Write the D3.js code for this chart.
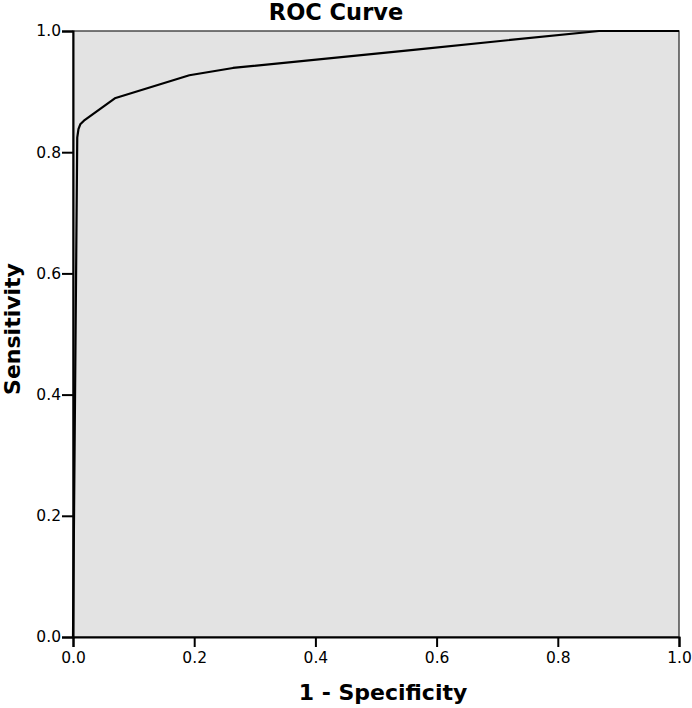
<!DOCTYPE html>
<html>
<head>
<meta charset="utf-8">
<script src="https://cdn.jsdelivr.net/npm/d3@7"></script>
<style>
  body { margin: 0; background: #fff; }
  text { font-family: "DejaVu Sans", sans-serif; fill: #000; }
</style>
</head>
<body>
<div id="chart"></div>
<script>
// ROC points: 1 - specificity, sensitivity
const fpr = [0, 0.007, 0.009, 0.012, 0.018, 0.069, 0.192, 0.264, 0.562, 0.868, 1.0];
const tpr = [0, 0.824, 0.838, 0.846, 0.852, 0.889, 0.927, 0.939, 0.969, 1.0, 1.0];
const tickValues = [0, 0.2, 0.4, 0.6, 0.8, 1.0];

const width = 692, height = 708;
const margin = { top: 31, right: 13, bottom: 71, left: 73 };

const svg = d3.select("#chart").append("svg")
    .attr("width", width)
    .attr("height", height);

const x = d3.scaleLinear().domain([0, 1]).range([margin.left, width - margin.right]);
const y = d3.scaleLinear().domain([0, 1]).range([height - margin.bottom, margin.top]);

// plot background + frame
svg.append("rect")
    .attr("x", x(0)).attr("y", y(1))
    .attr("width", x(1) - x(0)).attr("height", y(0) - y(1))
    .attr("fill", "#e3e3e3")
    .attr("stroke", "#333")
    .attr("stroke-width", 1.3);

// axes
const xAxis = svg.append("g")
    .attr("transform", `translate(0,${y(0)})`)
    .call(d3.axisBottom(x).tickValues(tickValues).tickFormat(d3.format(".1f")).tickSizeOuter(0).tickSize(10).tickPadding(5));
const yAxis = svg.append("g")
    .attr("transform", `translate(${x(0)},0)`)
    .call(d3.axisLeft(y).tickValues(tickValues).tickFormat(d3.format(".1f")).tickSizeOuter(0).tickSize(11).tickPadding(1));

[xAxis, yAxis].forEach(g => {
    g.attr("font-size", 15);
    g.select(".domain").attr("stroke", "#000").attr("stroke-width", 2);
    g.selectAll(".tick line").attr("stroke", "#000").attr("stroke-width", 2);
    g.selectAll(".tick text")
        .style("font-size", "15.5px")
        .attr("fill", "#000");
});

// ROC line
const pts = fpr.map((f, i) => [f, tpr[i]]);
svg.append("path")
    .datum(pts)
    .attr("fill", "none")
    .attr("stroke", "#000")
    .attr("stroke-width", 2.2)
    .attr("stroke-linejoin", "round")
    .attr("d", d3.line().x(d => x(d[0])).y(d => y(d[1])));

// titles
svg.append("text")
    .attr("x", 336).attr("y", 20)
    .attr("text-anchor", "middle")
    .attr("font-size", 22.5)
    .attr("font-weight", "bold")
    .text("ROC Curve");

svg.append("text")
    .attr("x", 383).attr("y", 700)
    .attr("text-anchor", "middle")
    .attr("font-size", 22)
    .attr("font-weight", "bold")
    .text("1 - Specificity");

svg.append("text")
    .attr("transform", "translate(20,329) rotate(-90)")
    .attr("text-anchor", "middle")
    .attr("font-size", 22)
    .attr("font-weight", "bold")
    .text("Sensitivity");
</script>
</body>
</html>
